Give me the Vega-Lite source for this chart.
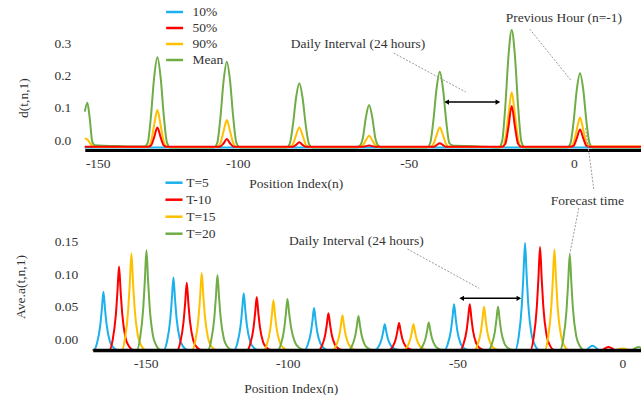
{
"$schema": "https://vega.github.io/schema/vega-lite/v6.json",
"autosize": {"type": "pad"},
"padding": {"left": 12.75, "top": 3, "right": 0, "bottom": 0},
"background": "white",
"bounds": "flush",
"spacing": 85,
"config": {
  "view": {"stroke": null},
  "font": "Liberation Serif",
  "axis": {"labelFont": "Liberation Serif", "labelFontSize": 13.5, "labelColor": "#333333", "titleFont": "Liberation Serif", "titleFontSize": 13.5, "titleFontWeight": "normal", "titleColor": "#333333", "grid": false, "ticks": false, "tickSize": 0, "labelFlush": false}
},
"resolve": {"scale": {"color": "independent"}, "legend": {"color": "independent"}},
"vconcat": [
{
  "width": 557, "height": 123,
  "encoding": {
    "x": {"field": "x", "type": "quantitative", "scale": {"domain": [-154.64, -150, -100, -50, 0, 20.6], "range": [0, 13, 153, 324, 489, 557], "nice": false, "zero": false},
      "axis": {"values": [-150, -100, -50, 0], "labelExpr": "datum.value + ''", "domainColor": "black", "domainWidth": 3, "labelPadding": 6, "title": "Position Index(n)", "titleX": 211, "titleY": 33, "titleAlign": "center", "titleBaseline": "middle"}},
    "y": {"field": "y", "type": "quantitative", "scale": {"domain": [-0.031, 0.351], "nice": false, "zero": false},
      "axis": {"values": [0, 0.1, 0.2, 0.3], "format": ".1f", "domain": false, "labelPadding": 14, "title": "d(t,n,1)", "titleX": -61.5, "titleY": 70.5, "titleAngle": 270, "titleAlign": "center", "titleBaseline": "middle"}}
  },
  "layer": [
    {
      "data": {"values": [
        {"x": -154.64, "10%": -0.023, "50%": -0.021, "90%": 0.005, "Mean": 0.088},
        {"x": -153.7, "10%": -0.023, "50%": -0.021, "90%": 0.002, "Mean": 0.116},
        {"x": -152.9, "10%": -0.023, "50%": -0.021, "90%": -0.008, "Mean": 0.07},
        {"x": -151.96, "10%": -0.023, "50%": -0.021, "90%": -0.018, "Mean": -0.005},
        {"x": -151.1, "10%": -0.023, "50%": -0.021, "90%": -0.022, "Mean": -0.016},
        {"x": -141.5, "10%": -0.023, "50%": -0.021, "90%": -0.022, "Mean": -0.019},
        {"x": -133.27, "10%": -0.023, "50%": -0.021, "90%": -0.022, "Mean": -0.02},
        {"x": -132.13, "10%": -0.023, "50%": -0.021, "90%": -0.022, "Mean": -0.008},
        {"x": -130.98, "10%": -0.023, "50%": -0.017, "90%": -0.005, "Mean": 0.076},
        {"x": -129.84, "10%": -0.023, "50%": 0.009, "90%": 0.047, "Mean": 0.196},
        {"x": -128.7, "10%": -0.023, "50%": 0.039, "90%": 0.093, "Mean": 0.257},
        {"x": -127.56, "10%": -0.023, "50%": 0.009, "90%": 0.047, "Mean": 0.196},
        {"x": -126.42, "10%": -0.023, "50%": -0.017, "90%": -0.005, "Mean": 0.076},
        {"x": -125.27, "10%": -0.023, "50%": -0.021, "90%": -0.022, "Mean": -0.008},
        {"x": -124.13, "10%": -0.023, "50%": -0.021, "90%": -0.022, "Mean": -0.023},
        {"x": -108.47, "10%": -0.023, "50%": -0.021, "90%": -0.022, "Mean": -0.023},
        {"x": -107.33, "10%": -0.023, "50%": -0.021, "90%": -0.022, "Mean": -0.009},
        {"x": -106.18, "10%": -0.023, "50%": -0.02, "90%": -0.009, "Mean": 0.071},
        {"x": -105.04, "10%": -0.023, "50%": -0.01, "90%": 0.028, "Mean": 0.185},
        {"x": -103.9, "10%": -0.023, "50%": 0.003, "90%": 0.062, "Mean": 0.243},
        {"x": -102.76, "10%": -0.023, "50%": -0.01, "90%": 0.028, "Mean": 0.185},
        {"x": -101.62, "10%": -0.023, "50%": -0.02, "90%": -0.009, "Mean": 0.071},
        {"x": -100.47, "10%": -0.023, "50%": -0.021, "90%": -0.022, "Mean": -0.009},
        {"x": -99.33, "10%": -0.023, "50%": -0.021, "90%": -0.022, "Mean": -0.023},
        {"x": -85.74, "10%": -0.023, "50%": -0.021, "90%": -0.022, "Mean": -0.023},
        {"x": -84.81, "10%": -0.023, "50%": -0.021, "90%": -0.022, "Mean": -0.012},
        {"x": -83.87, "10%": -0.023, "50%": -0.021, "90%": -0.013, "Mean": 0.047},
        {"x": -82.94, "10%": -0.023, "50%": -0.015, "90%": 0.015, "Mean": 0.132},
        {"x": -82.0, "10%": -0.023, "50%": -0.007, "90%": 0.039, "Mean": 0.176},
        {"x": -81.06, "10%": -0.023, "50%": -0.015, "90%": 0.015, "Mean": 0.132},
        {"x": -80.13, "10%": -0.023, "50%": -0.021, "90%": -0.013, "Mean": 0.047},
        {"x": -79.19, "10%": -0.023, "50%": -0.021, "90%": -0.022, "Mean": -0.012},
        {"x": -78.26, "10%": -0.023, "50%": -0.021, "90%": -0.022, "Mean": -0.023},
        {"x": -65.34, "10%": -0.023, "50%": -0.021, "90%": -0.022, "Mean": -0.023},
        {"x": -64.41, "10%": -0.023, "50%": -0.021, "90%": -0.022, "Mean": -0.019},
        {"x": -63.47, "10%": -0.023, "50%": -0.021, "90%": -0.017, "Mean": 0.004},
        {"x": -62.54, "10%": -0.023, "50%": -0.019, "90%": -0.001, "Mean": 0.07},
        {"x": -61.6, "10%": -0.023, "50%": -0.017, "90%": 0.013, "Mean": 0.109},
        {"x": -60.66, "10%": -0.023, "50%": -0.019, "90%": -0.001, "Mean": 0.07},
        {"x": -59.73, "10%": -0.023, "50%": -0.021, "90%": -0.017, "Mean": 0.004},
        {"x": -58.79, "10%": -0.023, "50%": -0.021, "90%": -0.022, "Mean": -0.019},
        {"x": -57.86, "10%": -0.023, "50%": -0.021, "90%": -0.022, "Mean": -0.023},
        {"x": -44.48, "10%": -0.023, "50%": -0.021, "90%": -0.022, "Mean": -0.023},
        {"x": -43.51, "10%": -0.023, "50%": -0.021, "90%": -0.022, "Mean": -0.01},
        {"x": -42.54, "10%": -0.023, "50%": -0.021, "90%": -0.013, "Mean": 0.06},
        {"x": -41.57, "10%": -0.023, "50%": -0.016, "90%": 0.015, "Mean": 0.16},
        {"x": -40.6, "10%": -0.023, "50%": -0.01, "90%": 0.039, "Mean": 0.212},
        {"x": -39.63, "10%": -0.023, "50%": -0.016, "90%": 0.015, "Mean": 0.16},
        {"x": -38.66, "10%": -0.023, "50%": -0.021, "90%": -0.013, "Mean": 0.06},
        {"x": -37.69, "10%": -0.023, "50%": -0.021, "90%": -0.022, "Mean": -0.01},
        {"x": -36.72, "10%": -0.023, "50%": -0.021, "90%": -0.022, "Mean": -0.017},
        {"x": -35.7, "10%": -0.023, "50%": -0.021, "90%": -0.022, "Mean": -0.018},
        {"x": -30.4, "10%": -0.023, "50%": -0.021, "90%": -0.022, "Mean": -0.019},
        {"x": -22.68, "10%": -0.023, "50%": -0.021, "90%": -0.022, "Mean": -0.023},
        {"x": -21.71, "10%": -0.023, "50%": -0.021, "90%": -0.022, "Mean": -0.004},
        {"x": -20.74, "10%": -0.023, "50%": -0.012, "90%": 0.004, "Mean": 0.105},
        {"x": -19.77, "10%": -0.023, "50%": 0.042, "90%": 0.08, "Mean": 0.262},
        {"x": -18.8, "10%": -0.023, "50%": 0.106, "90%": 0.148, "Mean": 0.342},
        {"x": -17.83, "10%": -0.023, "50%": 0.042, "90%": 0.08, "Mean": 0.262},
        {"x": -16.86, "10%": -0.023, "50%": -0.012, "90%": 0.004, "Mean": 0.105},
        {"x": -15.89, "10%": -0.023, "50%": -0.021, "90%": -0.022, "Mean": -0.004},
        {"x": -14.92, "10%": -0.023, "50%": -0.021, "90%": -0.022, "Mean": -0.023},
        {"x": -1.98, "10%": -0.023, "50%": -0.021, "90%": -0.022, "Mean": -0.023},
        {"x": -1.01, "10%": -0.023, "50%": -0.021, "90%": -0.022, "Mean": -0.011},
        {"x": -0.04, "10%": -0.023, "50%": -0.018, "90%": -0.008, "Mean": 0.058},
        {"x": 0.93, "10%": -0.023, "50%": 0.006, "90%": 0.033, "Mean": 0.157},
        {"x": 1.9, "10%": -0.023, "50%": 0.033, "90%": 0.07, "Mean": 0.207},
        {"x": 2.87, "10%": -0.023, "50%": 0.006, "90%": 0.033, "Mean": 0.157},
        {"x": 3.84, "10%": -0.023, "50%": -0.018, "90%": -0.008, "Mean": 0.058},
        {"x": 4.81, "10%": -0.023, "50%": -0.021, "90%": -0.019, "Mean": -0.011},
        {"x": 5.78, "10%": -0.023, "50%": -0.021, "90%": -0.02, "Mean": -0.023},
        {"x": 20.6, "10%": -0.023, "50%": -0.021, "90%": -0.02, "Mean": -0.023}
      ]},
      "transform": [{"fold": ["10%", "Mean", "90%", "50%"], "as": ["series", "y"]}],
      "mark": {"type": "line", "interpolate": "monotone", "strokeWidth": 2},
      "encoding": {
        "color": {"field": "series", "type": "nominal",
          "scale": {"domain": ["10%", "50%", "90%", "Mean"], "range": ["#1CB0EC", "#FF0000", "#FFC000", "#70AD47"]},
          "legend": {"orient": "none", "legendX": 80.85, "legendY": -24, "title": null, "symbolType": "M-1.11,0H1.11", "symbolSize": 234, "symbolStrokeWidth": 2.5, "labelOffset": 8.85, "rowPadding": 0, "labelFont": "Liberation Serif", "labelFontSize": 13.5, "labelColor": "#333333", "padding": 0}}
      }
    },
    {
      "data": {"values": [
        {"x": -54.4, "y": 0.27, "x2": -32.7, "y2": 0.149},
        {"x": -13.3, "y": 0.344, "x2": -0.9, "y2": 0.186},
        {"x": 3.6, "y": 0.037, "x2": 6.1, "y2": -0.155}
      ]},
      "mark": {"type": "rule", "color": "#9a9a9a", "strokeWidth": 1, "strokeDash": [2, 1.5]},
      "encoding": {"x2": {"field": "x2"}, "y2": {"field": "y2"}}
    },
    {
      "data": {"values": [{"x": -38.8, "x2": -22.7, "y": 0.118}]},
      "mark": {"type": "rule", "color": "black", "strokeWidth": 1.5},
      "encoding": {"x2": {"field": "x2"}}
    },
    {
      "data": {"values": [{"x": -38.5, "y": 0.118, "sh": "triangle-left"}, {"x": -23.0, "y": 0.118, "sh": "triangle-right"}]},
      "mark": {"type": "point", "filled": true, "color": "black", "opacity": 1, "size": 28},
      "encoding": {"shape": {"field": "sh", "type": "nominal", "scale": null}}
    },
    {
      "data": {"values": [
        {"x": -84.5, "y": 0.298, "t": "Daily Interval (24 hours)"},
        {"x": -20.6, "y": 0.378, "t": "Previous Hour (n=-1)"}
      ]},
      "mark": {"type": "text", "align": "left", "baseline": "middle", "font": "Liberation Serif", "fontSize": 13.5, "color": "#333333"},
      "encoding": {"text": {"field": "t"}}
    }
  ]
},
{
  "width": 557, "height": 115,
  "encoding": {
    "x": {"field": "x", "type": "quantitative", "scale": {"domain": [-168.66, -150, -100, -50, 0, 5.85], "range": [8, 61, 203, 372.7, 537.7, 557], "nice": false, "zero": false},
      "axis": {"values": [-150, -100, -50, 0], "labelExpr": "datum.value + ''", "domainColor": "black", "domainWidth": 3.4, "labelPadding": 6, "zindex": 1, "title": "Position Index(n)", "titleX": 206, "titleY": 38, "titleAlign": "center", "titleBaseline": "middle"}},
    "y": {"field": "y", "type": "quantitative", "scale": {"domain": [-0.0165, 0.1605], "nice": false, "zero": false},
      "axis": {"values": [0, 0.05, 0.1, 0.15], "format": ".2f", "domain": false, "labelPadding": 7, "title": "Ave.a(t,n,1)", "titleX": -64.5, "titleY": 51.5, "titleAngle": 270, "titleAlign": "center", "titleBaseline": "middle"}}
  },
  "layer": [
    {
      "data": {"values": [
        {"s": "T=5", "x": -168.66, "y": -0.0165},
        {"s": "T=5", "x": -168.28, "y": -0.0165}, {"s": "T=5", "x": -167.15, "y": -0.0058}, {"s": "T=5", "x": -166.03, "y": 0.0211}, {"s": "T=5", "x": -165.46, "y": 0.0462}, {"s": "T=5", "x": -164.9, "y": 0.073}, {"s": "T=5", "x": -164.34, "y": 0.0462}, {"s": "T=5", "x": -163.77, "y": 0.022}, {"s": "T=5", "x": -162.65, "y": -0.0031}, {"s": "T=5", "x": -161.52, "y": -0.012}, {"s": "T=5", "x": -159.83, "y": -0.0165},
        {"s": "T=5", "x": -143.63, "y": -0.0165}, {"s": "T=5", "x": -142.5, "y": -0.0031}, {"s": "T=5", "x": -141.38, "y": 0.0303}, {"s": "T=5", "x": -140.81, "y": 0.0616}, {"s": "T=5", "x": -140.25, "y": 0.095}, {"s": "T=5", "x": -139.69, "y": 0.0616}, {"s": "T=5", "x": -139.12, "y": 0.0314}, {"s": "T=5", "x": -138.0, "y": 0.0002}, {"s": "T=5", "x": -136.87, "y": -0.0109}, {"s": "T=5", "x": -135.18, "y": -0.0165},
        {"s": "T=5", "x": -118.88, "y": -0.0165}, {"s": "T=5", "x": -117.75, "y": -0.006}, {"s": "T=5", "x": -116.63, "y": 0.0203}, {"s": "T=5", "x": -116.06, "y": 0.0448}, {"s": "T=5", "x": -115.5, "y": 0.071}, {"s": "T=5", "x": -114.94, "y": 0.0448}, {"s": "T=5", "x": -114.37, "y": 0.0211}, {"s": "T=5", "x": -113.25, "y": -0.0034}, {"s": "T=5", "x": -112.12, "y": -0.0121}, {"s": "T=5", "x": -110.43, "y": -0.0165},
        {"s": "T=5", "x": -95.08, "y": -0.0165}, {"s": "T=5", "x": -94.14, "y": -0.0088}, {"s": "T=5", "x": -93.19, "y": 0.0106}, {"s": "T=5", "x": -92.72, "y": 0.0287}, {"s": "T=5", "x": -92.25, "y": 0.048}, {"s": "T=5", "x": -91.78, "y": 0.0287}, {"s": "T=5", "x": -91.31, "y": 0.0112}, {"s": "T=5", "x": -90.36, "y": -0.0068}, {"s": "T=5", "x": -89.42, "y": -0.0133}, {"s": "T=5", "x": -88.01, "y": -0.0165},
        {"s": "T=5", "x": -74.25, "y": -0.0165}, {"s": "T=5", "x": -73.31, "y": -0.0118}, {"s": "T=5", "x": -72.36, "y": 0.0001}, {"s": "T=5", "x": -71.89, "y": 0.0112}, {"s": "T=5", "x": -71.42, "y": 0.023}, {"s": "T=5", "x": -70.95, "y": 0.0112}, {"s": "T=5", "x": -70.48, "y": 0.0005}, {"s": "T=5", "x": -69.53, "y": -0.0106}, {"s": "T=5", "x": -68.59, "y": -0.0145}, {"s": "T=5", "x": -67.18, "y": -0.0165},
        {"s": "T=5", "x": -53.83, "y": -0.0165}, {"s": "T=5", "x": -52.89, "y": -0.008}, {"s": "T=5", "x": -51.94, "y": 0.0131}, {"s": "T=5", "x": -51.47, "y": 0.0329}, {"s": "T=5", "x": -51.0, "y": 0.054}, {"s": "T=5", "x": -50.53, "y": 0.0329}, {"s": "T=5", "x": -50.06, "y": 0.0138}, {"s": "T=5", "x": -49.11, "y": -0.0059}, {"s": "T=5", "x": -48.17, "y": -0.013}, {"s": "T=5", "x": -46.76, "y": -0.0165},
        {"s": "T=5", "x": -32.43, "y": -0.0165}, {"s": "T=5", "x": -31.46, "y": 0.0032}, {"s": "T=5", "x": -30.49, "y": 0.0526}, {"s": "T=5", "x": -30.01, "y": 0.0987}, {"s": "T=5", "x": -29.52, "y": 0.148}, {"s": "T=5", "x": -29.03, "y": 0.0987}, {"s": "T=5", "x": -28.55, "y": 0.0542}, {"s": "T=5", "x": -27.58, "y": 0.0082}, {"s": "T=5", "x": -26.61, "y": -0.0083}, {"s": "T=5", "x": -25.15, "y": -0.0165},
        {"s": "T=5", "x": -11.03, "y": -0.0165}, {"s": "T=5", "x": -10.06, "y": -0.0126}, {"s": "T=5", "x": -9.09, "y": -0.01}, {"s": "T=5", "x": -8.12, "y": -0.0126}, {"s": "T=5", "x": -7.15, "y": -0.0165}, {"s": "T=5", "x": 5.85, "y": -0.0165},

        {"s": "T-10", "x": -168.66, "y": -0.0165},
        {"s": "T-10", "x": -162.78, "y": -0.0165}, {"s": "T-10", "x": -161.65, "y": -0.0011}, {"s": "T-10", "x": -160.53, "y": 0.0375}, {"s": "T-10", "x": -159.96, "y": 0.0735}, {"s": "T-10", "x": -159.4, "y": 0.112}, {"s": "T-10", "x": -158.84, "y": 0.0735}, {"s": "T-10", "x": -158.27, "y": 0.0388}, {"s": "T-10", "x": -157.15, "y": 0.0028}, {"s": "T-10", "x": -156.02, "y": -0.0101}, {"s": "T-10", "x": -154.33, "y": -0.0165},
        {"s": "T-10", "x": -138.94, "y": -0.0165}, {"s": "T-10", "x": -137.81, "y": -0.0041}, {"s": "T-10", "x": -136.69, "y": 0.027}, {"s": "T-10", "x": -136.12, "y": 0.056}, {"s": "T-10", "x": -135.56, "y": 0.087}, {"s": "T-10", "x": -135.0, "y": 0.056}, {"s": "T-10", "x": -134.43, "y": 0.028}, {"s": "T-10", "x": -133.31, "y": -0.001}, {"s": "T-10", "x": -132.18, "y": -0.0113}, {"s": "T-10", "x": -130.49, "y": -0.0165},
        {"s": "T-10", "x": -114.3, "y": -0.0165}, {"s": "T-10", "x": -113.17, "y": -0.0067}, {"s": "T-10", "x": -112.05, "y": 0.0177}, {"s": "T-10", "x": -111.48, "y": 0.0406}, {"s": "T-10", "x": -110.92, "y": 0.065}, {"s": "T-10", "x": -110.36, "y": 0.0406}, {"s": "T-10", "x": -109.79, "y": 0.0185}, {"s": "T-10", "x": -108.67, "y": -0.0043}, {"s": "T-10", "x": -107.54, "y": -0.0124}, {"s": "T-10", "x": -105.85, "y": -0.0165},
        {"s": "T-10", "x": -90.84, "y": -0.0165}, {"s": "T-10", "x": -89.9, "y": -0.0097}, {"s": "T-10", "x": -88.95, "y": 0.0072}, {"s": "T-10", "x": -88.48, "y": 0.0231}, {"s": "T-10", "x": -88.01, "y": 0.04}, {"s": "T-10", "x": -87.54, "y": 0.0231}, {"s": "T-10", "x": -87.07, "y": 0.0078}, {"s": "T-10", "x": -86.12, "y": -0.008}, {"s": "T-10", "x": -85.18, "y": -0.0137}, {"s": "T-10", "x": -83.77, "y": -0.0165},
        {"s": "T-10", "x": -70.04, "y": -0.0165}, {"s": "T-10", "x": -69.1, "y": -0.0115}, {"s": "T-10", "x": -68.15, "y": 0.0009}, {"s": "T-10", "x": -67.68, "y": 0.0126}, {"s": "T-10", "x": -67.21, "y": 0.025}, {"s": "T-10", "x": -66.74, "y": 0.0126}, {"s": "T-10", "x": -66.27, "y": 0.0013}, {"s": "T-10", "x": -65.32, "y": -0.0103}, {"s": "T-10", "x": -64.38, "y": -0.0144}, {"s": "T-10", "x": -62.97, "y": -0.0165},
        {"s": "T-10", "x": -49.18, "y": -0.0165}, {"s": "T-10", "x": -48.21, "y": -0.008}, {"s": "T-10", "x": -47.24, "y": 0.0131}, {"s": "T-10", "x": -46.76, "y": 0.0329}, {"s": "T-10", "x": -46.27, "y": 0.054}, {"s": "T-10", "x": -45.78, "y": 0.0329}, {"s": "T-10", "x": -45.3, "y": 0.0138}, {"s": "T-10", "x": -44.33, "y": -0.0059}, {"s": "T-10", "x": -43.36, "y": -0.013}, {"s": "T-10", "x": -41.9, "y": -0.0165},
        {"s": "T-10", "x": -27.88, "y": -0.0165}, {"s": "T-10", "x": -26.91, "y": 0.0025}, {"s": "T-10", "x": -25.94, "y": 0.0501}, {"s": "T-10", "x": -25.46, "y": 0.0945}, {"s": "T-10", "x": -24.97, "y": 0.142}, {"s": "T-10", "x": -24.48, "y": 0.0945}, {"s": "T-10", "x": -24.0, "y": 0.0517}, {"s": "T-10", "x": -23.03, "y": 0.0073}, {"s": "T-10", "x": -22.06, "y": -0.0086}, {"s": "T-10", "x": -20.6, "y": -0.0165},
        {"s": "T-10", "x": -6.18, "y": -0.0165}, {"s": "T-10", "x": -5.21, "y": -0.0138}, {"s": "T-10", "x": -4.24, "y": -0.012}, {"s": "T-10", "x": -3.27, "y": -0.0138}, {"s": "T-10", "x": -2.3, "y": -0.0165}, {"s": "T-10", "x": 5.85, "y": -0.0165},

        {"s": "T=15", "x": -168.66, "y": -0.0165},
        {"s": "T=15", "x": -158.42, "y": -0.0165}, {"s": "T=15", "x": -157.29, "y": 0.0013}, {"s": "T=15", "x": -156.17, "y": 0.0459}, {"s": "T=15", "x": -155.6, "y": 0.0875}, {"s": "T=15", "x": -155.04, "y": 0.132}, {"s": "T=15", "x": -154.48, "y": 0.0875}, {"s": "T=15", "x": -153.91, "y": 0.0474}, {"s": "T=15", "x": -152.79, "y": 0.0058}, {"s": "T=15", "x": -151.66, "y": -0.0091}, {"s": "T=15", "x": -149.97, "y": -0.0165},
        {"s": "T=15", "x": -133.66, "y": -0.0165}, {"s": "T=15", "x": -132.53, "y": -0.0023}, {"s": "T=15", "x": -131.41, "y": 0.0333}, {"s": "T=15", "x": -130.84, "y": 0.0665}, {"s": "T=15", "x": -130.28, "y": 0.102}, {"s": "T=15", "x": -129.72, "y": 0.0665}, {"s": "T=15", "x": -129.15, "y": 0.0345}, {"s": "T=15", "x": -128.03, "y": 0.0013}, {"s": "T=15", "x": -126.9, "y": -0.0106}, {"s": "T=15", "x": -125.21, "y": -0.0165},
        {"s": "T=15", "x": -108.42, "y": -0.0165}, {"s": "T=15", "x": -107.29, "y": -0.0073}, {"s": "T=15", "x": -106.17, "y": 0.0156}, {"s": "T=15", "x": -105.6, "y": 0.0371}, {"s": "T=15", "x": -105.04, "y": 0.06}, {"s": "T=15", "x": -104.48, "y": 0.0371}, {"s": "T=15", "x": -103.91, "y": 0.0164}, {"s": "T=15", "x": -102.79, "y": -0.005}, {"s": "T=15", "x": -101.66, "y": -0.0127}, {"s": "T=15", "x": -99.97, "y": -0.0165},
        {"s": "T=15", "x": -86.71, "y": -0.0165}, {"s": "T=15", "x": -85.77, "y": -0.0101}, {"s": "T=15", "x": -84.82, "y": 0.006}, {"s": "T=15", "x": -84.35, "y": 0.021}, {"s": "T=15", "x": -83.88, "y": 0.037}, {"s": "T=15", "x": -83.41, "y": 0.021}, {"s": "T=15", "x": -82.94, "y": 0.0065}, {"s": "T=15", "x": -81.99, "y": -0.0085}, {"s": "T=15", "x": -81.05, "y": -0.0138}, {"s": "T=15", "x": -79.64, "y": -0.0165},
        {"s": "T=15", "x": -65.79, "y": -0.0165}, {"s": "T=15", "x": -64.85, "y": -0.0118}, {"s": "T=15", "x": -63.9, "y": 0.0001}, {"s": "T=15", "x": -63.43, "y": 0.0112}, {"s": "T=15", "x": -62.96, "y": 0.023}, {"s": "T=15", "x": -62.49, "y": 0.0112}, {"s": "T=15", "x": -62.02, "y": 0.0005}, {"s": "T=15", "x": -61.07, "y": -0.0106}, {"s": "T=15", "x": -60.13, "y": -0.0145}, {"s": "T=15", "x": -58.72, "y": -0.0165},
        {"s": "T=15", "x": -44.85, "y": -0.0165}, {"s": "T=15", "x": -43.88, "y": -0.0085}, {"s": "T=15", "x": -42.91, "y": 0.0114}, {"s": "T=15", "x": -42.43, "y": 0.0301}, {"s": "T=15", "x": -41.94, "y": 0.05}, {"s": "T=15", "x": -41.45, "y": 0.0301}, {"s": "T=15", "x": -40.97, "y": 0.0121}, {"s": "T=15", "x": -40.0, "y": -0.0065}, {"s": "T=15", "x": -39.03, "y": -0.0132}, {"s": "T=15", "x": -37.57, "y": -0.0165},
        {"s": "T=15", "x": -23.52, "y": -0.0165}, {"s": "T=15", "x": -22.55, "y": 0.002}, {"s": "T=15", "x": -21.58, "y": 0.0484}, {"s": "T=15", "x": -21.1, "y": 0.0917}, {"s": "T=15", "x": -20.61, "y": 0.138}, {"s": "T=15", "x": -20.12, "y": 0.0917}, {"s": "T=15", "x": -19.64, "y": 0.0499}, {"s": "T=15", "x": -18.67, "y": 0.0067}, {"s": "T=15", "x": -17.7, "y": -0.0088}, {"s": "T=15", "x": -16.24, "y": -0.0165},
        {"s": "T=15", "x": -1.94, "y": -0.0165}, {"s": "T=15", "x": -0.97, "y": -0.015}, {"s": "T=15", "x": 0.0, "y": -0.014}, {"s": "T=15", "x": 0.97, "y": -0.015}, {"s": "T=15", "x": 1.94, "y": -0.0165}, {"s": "T=15", "x": 5.85, "y": -0.0165},

        {"s": "T=20", "x": -168.66, "y": -0.0165},
        {"s": "T=20", "x": -153.13, "y": -0.0165}, {"s": "T=20", "x": -152.0, "y": 0.0019}, {"s": "T=20", "x": -150.88, "y": 0.048}, {"s": "T=20", "x": -150.31, "y": 0.091}, {"s": "T=20", "x": -149.75, "y": 0.137}, {"s": "T=20", "x": -149.19, "y": 0.091}, {"s": "T=20", "x": -148.62, "y": 0.0495}, {"s": "T=20", "x": -147.5, "y": 0.0065}, {"s": "T=20", "x": -146.37, "y": -0.0088}, {"s": "T=20", "x": -144.68, "y": -0.0165},
        {"s": "T=20", "x": -128.13, "y": -0.0165}, {"s": "T=20", "x": -127.0, "y": -0.0026}, {"s": "T=20", "x": -125.88, "y": 0.032}, {"s": "T=20", "x": -125.31, "y": 0.0644}, {"s": "T=20", "x": -124.75, "y": 0.099}, {"s": "T=20", "x": -124.19, "y": 0.0644}, {"s": "T=20", "x": -123.62, "y": 0.0332}, {"s": "T=20", "x": -122.5, "y": 0.0008}, {"s": "T=20", "x": -121.37, "y": -0.0107}, {"s": "T=20", "x": -119.68, "y": -0.0165},
        {"s": "T=20", "x": -103.49, "y": -0.0165}, {"s": "T=20", "x": -102.36, "y": -0.0071}, {"s": "T=20", "x": -101.24, "y": 0.0165}, {"s": "T=20", "x": -100.67, "y": 0.0385}, {"s": "T=20", "x": -100.11, "y": 0.062}, {"s": "T=20", "x": -99.55, "y": 0.0385}, {"s": "T=20", "x": -98.98, "y": 0.0173}, {"s": "T=20", "x": -97.86, "y": -0.0047}, {"s": "T=20", "x": -96.73, "y": -0.0126}, {"s": "T=20", "x": -95.04, "y": -0.0165},
        {"s": "T=20", "x": -82.0, "y": -0.0165}, {"s": "T=20", "x": -81.06, "y": -0.0102}, {"s": "T=20", "x": -80.11, "y": 0.0056}, {"s": "T=20", "x": -79.64, "y": 0.0203}, {"s": "T=20", "x": -79.17, "y": 0.036}, {"s": "T=20", "x": -78.7, "y": 0.0203}, {"s": "T=20", "x": -78.23, "y": 0.0061}, {"s": "T=20", "x": -77.28, "y": -0.0086}, {"s": "T=20", "x": -76.34, "y": -0.0139}, {"s": "T=20", "x": -74.93, "y": -0.0165},
        {"s": "T=20", "x": -61.29, "y": -0.0165}, {"s": "T=20", "x": -60.35, "y": -0.0114}, {"s": "T=20", "x": -59.4, "y": 0.0014}, {"s": "T=20", "x": -58.93, "y": 0.0133}, {"s": "T=20", "x": -58.46, "y": 0.026}, {"s": "T=20", "x": -57.99, "y": 0.0133}, {"s": "T=20", "x": -57.52, "y": 0.0018}, {"s": "T=20", "x": -56.57, "y": -0.0101}, {"s": "T=20", "x": -55.63, "y": -0.0144}, {"s": "T=20", "x": -54.22, "y": -0.0165},
        {"s": "T=20", "x": -40.61, "y": -0.0165}, {"s": "T=20", "x": -39.64, "y": -0.0085}, {"s": "T=20", "x": -38.67, "y": 0.0114}, {"s": "T=20", "x": -38.19, "y": 0.0301}, {"s": "T=20", "x": -37.7, "y": 0.05}, {"s": "T=20", "x": -37.21, "y": 0.0301}, {"s": "T=20", "x": -36.73, "y": 0.0121}, {"s": "T=20", "x": -35.76, "y": -0.0065}, {"s": "T=20", "x": -34.79, "y": -0.0132}, {"s": "T=20", "x": -33.33, "y": -0.0165},
        {"s": "T=20", "x": -18.88, "y": -0.0165}, {"s": "T=20", "x": -17.91, "y": 0.0012}, {"s": "T=20", "x": -16.94, "y": 0.0455}, {"s": "T=20", "x": -16.46, "y": 0.0868}, {"s": "T=20", "x": -15.97, "y": 0.131}, {"s": "T=20", "x": -15.48, "y": 0.0868}, {"s": "T=20", "x": -15.0, "y": 0.0469}, {"s": "T=20", "x": -14.03, "y": 0.0056}, {"s": "T=20", "x": -13.06, "y": -0.0091}, {"s": "T=20", "x": -11.6, "y": -0.0165},
        {"s": "T=20", "x": 2.91, "y": -0.0165}, {"s": "T=20", "x": 3.88, "y": -0.0138}, {"s": "T=20", "x": 4.85, "y": -0.012}, {"s": "T=20", "x": 5.82, "y": -0.0138}
      ]},
      "mark": {"type": "line", "interpolate": "monotone", "strokeWidth": 2},
      "encoding": {
        "color": {"field": "s", "type": "nominal",
          "scale": {"domain": ["T=5", "T-10", "T=15", "T=20"], "range": ["#1CB0EC", "#FF0000", "#FFC000", "#70AD47"]},
          "legend": {"orient": "none", "legendX": 79.25, "legendY": -62.3, "title": null, "symbolType": "M-1.03,0H1.03", "symbolSize": 276, "symbolStrokeWidth": 2.5, "labelOffset": 2.25, "rowPadding": 0, "labelFont": "Liberation Serif", "labelFontSize": 13.5, "labelColor": "#333333", "padding": 0}}
      }
    },
    {
      "data": {"values": [
        {"x": -64.73, "y": 0.139, "x2": -43.45, "y2": 0.0785},
        {"x": -13.24, "y": 0.202, "x2": -15.97, "y2": 0.131}
      ]},
      "mark": {"type": "rule", "color": "#9a9a9a", "strokeWidth": 1, "strokeDash": [2, 1.5]},
      "encoding": {"x2": {"field": "x2"}, "y2": {"field": "y2"}}
    },
    {
      "data": {"values": [{"x": -49.0, "x2": -31.12, "y": 0.0631}]},
      "mark": {"type": "rule", "color": "black", "strokeWidth": 1.5},
      "encoding": {"x2": {"field": "x2"}}
    },
    {
      "data": {"values": [{"x": -48.7, "y": 0.0631, "sh": "triangle-left"}, {"x": -31.4, "y": 0.0631, "sh": "triangle-right"}]},
      "mark": {"type": "point", "filled": true, "color": "black", "opacity": 1, "size": 28},
      "encoding": {"shape": {"field": "sh", "type": "nominal", "scale": null}}
    },
    {
      "data": {"values": [
        {"x": -99.6, "y": 0.1517, "t": "Daily Interval (24 hours)"},
        {"x": -21.7, "y": 0.2128, "t": "Forecast time"}
      ]},
      "mark": {"type": "text", "align": "left", "baseline": "middle", "font": "Liberation Serif", "fontSize": 13.5, "color": "#333333"},
      "encoding": {"text": {"field": "t"}}
    }
  ]
}
]
}
